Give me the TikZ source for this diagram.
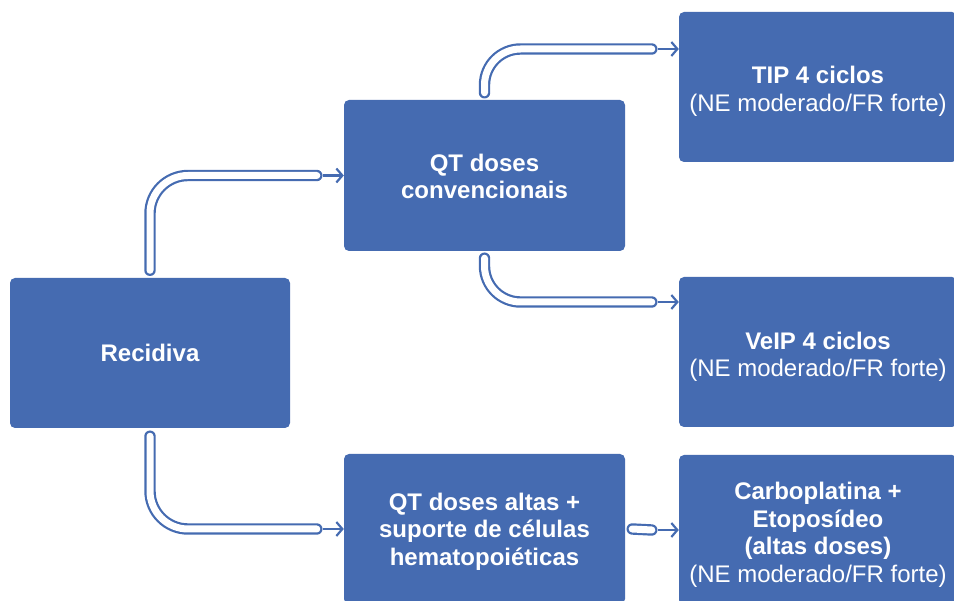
\documentclass[tikz,border=0pt]{standalone}
\usepackage{fontspec}
\setmainfont{Liberation Sans}
\usetikzlibrary{arrows.meta}
\definecolor{boxblue}{RGB}{69,107,177}
\begin{document}
\begin{tikzpicture}[x=1pt,y=-1pt,
  box/.style={fill=boxblue, rounded corners=5pt, inner sep=0pt},
  txt/.style={text=white, align=center, font=\fontsize{24}{27.5}\selectfont, inner sep=0pt},
  pipe/.style={draw=boxblue, line width=2.2pt, double=white, double distance=7pt,
    line cap=round, rounded corners=36pt},
  arr/.style={draw=boxblue, line width=2.2pt, -{Straight Barb[length=6pt,width=14pt]}}]
\useasboundingbox (0,0) rectangle (954,601);
\clip (0,0) rectangle (954,601);
% boxes
\node[box, minimum width=280pt, minimum height=150pt] (rec) at (150,353) {};
\node[box, minimum width=281pt, minimum height=151pt] (qtc) at (484.5,175.5) {};
\node[box, minimum width=278pt, minimum height=150pt] (tip) at (818,87) {};
\node[box, minimum width=278pt, minimum height=150pt] (veip) at (818,352) {};
\node[box, minimum width=281pt, minimum height=150pt] (qta) at (484.5,529) {};
\node[box, minimum width=278pt, minimum height=150pt] (carb) at (818,530) {};
% texts
\node[txt] (rect) at (rec.center) {\bfseries Recidiva};
\node[txt] (qtct) at ([yshift=-1pt]qtc.center) {\bfseries QT doses\\\bfseries convencionais};
\node[txt] (tipt) at ([yshift=-4.5pt]tip.center) {\bfseries TIP 4 ciclos\\(NE moderado/FR forte)};
\node[txt] (veipt) at ([yshift=-5pt]veip.center) {\bfseries VeIP 4 ciclos\\(NE moderado/FR forte)};
\node[txt] (qtat) at ([yshift=-2.5pt]qta.center) {\bfseries QT doses altas +\\\bfseries suporte de células\\\bfseries hematopoiéticas};
\node[txt] (carbt) at ([yshift=-5pt]carb.center) {\bfseries Carboplatina +\\\bfseries Etoposídeo\\\bfseries (altas doses)\\(NE moderado/FR forte)};
% connector ends
\coordinate (e1) at ([xshift=-21pt]qtc.west);
\coordinate (e2) at ([xshift=-21pt]qta.west);
\coordinate (t3) at ([yshift=38pt]tip.west);
\coordinate (e3) at ([xshift=-21pt]t3);
\coordinate (t4) at ([yshift=50pt]veip.west);
\coordinate (e4) at ([xshift=-21pt]t4);
\coordinate (e5) at ([xshift=-21pt]carb.west);
% pipes
\draw[pipe, rounded corners=38pt] ([yshift=7.5pt]rec.north) |- ([xshift=-6pt]e1);
\draw[arr] (e1) -- (qtc.west);
\draw[pipe, rounded corners=38pt] ([yshift=-8pt]rec.south) |- ([xshift=-6pt]e2);
\draw[arr] (e2) -- (qta.west);
\draw[pipe] ([yshift=7pt]qtc.north) |- ([xshift=-6pt]e3);
\draw[arr] (e3) -- (t3);
\draw[pipe] ([yshift=-7pt]qtc.south) |- ([xshift=-6pt]e4);
\draw[arr] (e4) -- (t4);
\draw[pipe] ([xshift=7pt]qta.east) -- ([xshift=-6pt]e5);
\draw[arr] (e5) -- (carb.west);
\end{tikzpicture}
\end{document}
